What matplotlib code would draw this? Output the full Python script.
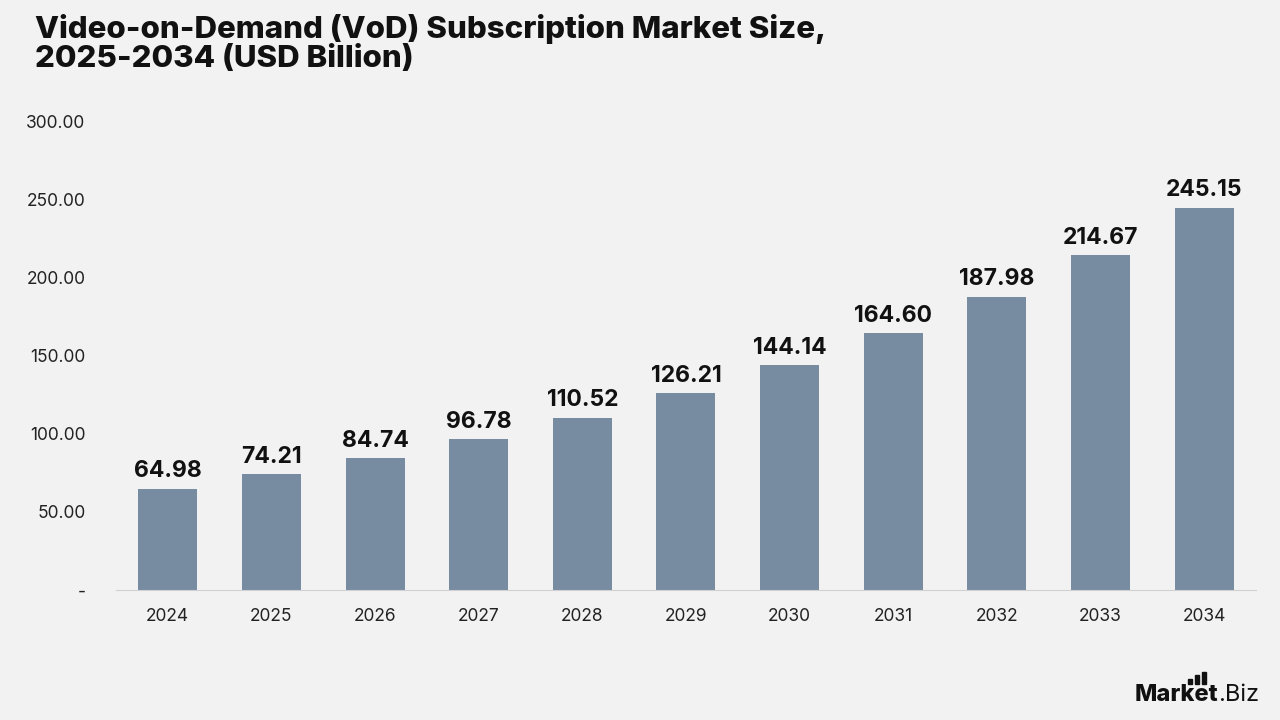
import matplotlib.pyplot as plt
from matplotlib.patches import Rectangle

years = ["2024", "2025", "2026", "2027", "2028", "2029", "2030", "2031", "2032", "2033", "2034"]
values = [64.98, 74.21, 84.74, 96.78, 110.52, 126.21, 144.14, 164.60, 187.98, 214.67, 245.15]
y_ticks = [0, 50, 100, 150, 200, 250, 300]
y_tick_labels = ["-", "50.00", "100.00", "150.00", "200.00", "250.00", "300.00"]

BG = "#f2f2f2"
BAR = "#778ba1"

plt.rcParams['font.family'] = ['Inter', 'DejaVu Sans']

fig = plt.figure(figsize=(12.8, 7.2), dpi=100, facecolor=BG)
ax = fig.add_axes([0.0906, 0.1806, 0.8906, 0.65])
ax.set_facecolor(BG)

x = range(len(years))
ax.bar(x, values, width=0.57, color=BAR, zorder=2)
for i, v in zip(x, values):
    ax.text(i, v + 4, f"{v:.2f}", ha="center", va="bottom",
            fontsize=16.5, fontweight="bold", color="#111111")

ax.set_xlim(-0.5, len(years) - 0.5)
ax.set_ylim(0, 300)
ax.set_xticks(list(x))
ax.set_xticklabels(years, fontsize=12.5, color="#222222")
ax.set_yticks(y_ticks)
ax.set_yticklabels(y_tick_labels, fontsize=12.5, color="#222222")
ax.tick_params(axis="both", length=0)
ax.tick_params(axis="x", pad=13)
ax.tick_params(axis="y", pad=22)
for s in ["top", "right", "left"]:
    ax.spines[s].set_visible(False)
ax.spines["bottom"].set_color("#d0d0d0")

fig.text(0.027, 0.94, "Video-on-Demand (VoD) Subscription Market Size,\n2025-2034 (USD Billion)",
         fontsize=22.5, fontweight="heavy", color="#111111", va="center", ha="left",
         linespacing=1.05)

# logo
fig.text(0.9516, 0.027, "Market", fontsize=17, fontweight="heavy", color="#111111",
         ha="right", va="baseline")
fig.text(0.9516, 0.027, ".Biz", fontsize=17, color="#111111", ha="left", va="baseline")
for bx, by, bh in [(1188, 679, 5), (1195, 675, 9), (1202, 672, 12)]:
    fig.patches.append(Rectangle((bx / 1280, (720 - by - bh) / 720), 3.5 / 1280, bh / 720,
                                 transform=fig.transFigure, color="#111111"))

fig.savefig("out.png", dpi=100, facecolor=BG)
